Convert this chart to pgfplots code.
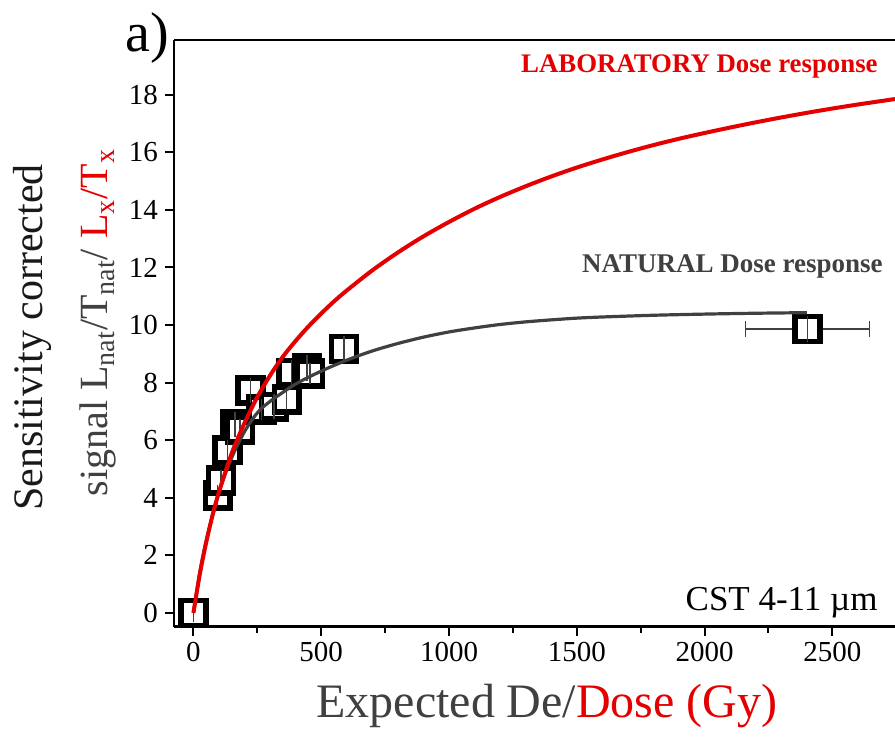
\documentclass[border=0pt]{standalone}
\usepackage{pgfplots}
\pgfplotsset{compat=1.18}
\usepackage{fontspec}
\setmainfont{Liberation Serif}
\definecolor{labred}{RGB}{228,0,0}
\definecolor{natgray}{RGB}{64,64,64}
\begin{document}
\begin{tikzpicture}
\begin{axis}[
  name=ax,
  scale only axis, width=360.5pt, height=293.25pt,
  xmin=-76, xmax=2745, ymin=-0.47, ymax=19.9,
  axis lines*=left,
  axis line style={-, line width=1.3pt, black},
  tick align=outside,
  xtick={0,500,...,2500}, minor xtick={250,750,...,2750},
  ytick={0,2,...,18},
  major tick length=4.5pt, minor tick length=3pt,
  every tick/.style={black, line width=1pt},
  tick label style={font=\fontsize{14.5}{14.5}\selectfont},
  /pgf/number format/assume math mode=true,
  /pgf/number format/1000 sep={},
  clip=false,
  clip marker paths=true,
]
% x error bar of last point
\addplot[natgray, draw=none, mark=none, forget plot,
  error bars/.cd, x dir=both, x explicit,
  error bar style={natgray, line width=0.6pt},
  error mark options={natgray, line width=0.6pt, mark size=4pt, rotate=90}]
  coordinates {(2402,9.86) +- (242,0)};
% squares
\addplot[only marks, mark=square*, mark size=6.2pt,
  mark options={fill=white, draw=black, line width=2.8pt}]
  table[x=x, y=y] {
x y
0 0
95 4.08
108 4.6
134 5.65
163 6.54
182 6.37
224 7.72
267 7.06
315 7.16
365 7.41
384 8.34
445 8.51
456 8.32
589 9.17
2402 9.86
};
% y error bars inside squares
\addplot[natgray, draw=none, mark=none, forget plot,
  error bars/.cd, y dir=both, y explicit,
  error bar style={natgray, line width=0.7pt},
  error mark options={natgray, line width=0.7pt, mark size=2.2pt}]
  coordinates {
(0,0) +- (0,0.15)
(95,4.08) +- (0,0.22)
(108,4.6) +- (0,0.22)
(134,5.65) +- (0,0.22)
(163,6.54) +- (0,0.28)
(182,6.37) +- (0,0.22)
(224,7.72) +- (0,0.28)
(267,7.06) +- (0,0.22)
(315,7.16) +- (0,0.28)
(365,7.41) +- (0,0.22)
(384,8.34) +- (0,0.28)
(445,8.51) +- (0,0.3)
(456,8.32) +- (0,0.22)
(589,9.17) +- (0,0.3)
(2402,9.86) +- (0,0.3)
};
% natural curve
\addplot[natgray, line width=1.6pt, smooth, tension=0.5] coordinates {
(0,0) (25,1.4) (50,2.5) (100,4.2) (150,5.4) (200,6.3) (250,6.95) (300,7.35)
(400,7.95) (500,8.4) (600,8.78) (700,9.1) (800,9.36) (900,9.58) (1000,9.76)
(1100,9.9) (1200,10.02) (1300,10.11) (1400,10.18) (1500,10.24) (1600,10.28)
(1800,10.34) (2000,10.38) (2200,10.41) (2400,10.43)};
% laboratory curve
\addplot[labred, line width=2pt, smooth, tension=0.5] coordinates {
(0,0) (25,1.35) (50,2.45) (75,3.4) (100,4.2) (150,5.55) (200,6.6) (250,7.5)
(300,8.25) (350,8.9) (400,9.45) (450,9.95) (500,10.4) (550,10.82) (600,11.2)
(700,11.9) (800,12.52) (900,13.08) (1000,13.58) (1100,14.04) (1200,14.45)
(1300,14.82) (1400,15.16) (1500,15.47) (1600,15.75) (1700,16.01) (1800,16.25)
(1900,16.47) (2000,16.67) (2100,16.86) (2200,17.04) (2300,17.21) (2400,17.37)
(2500,17.52) (2600,17.66) (2745,17.85)};
\end{axis}
\draw[line width=1.3pt] (ax.north west) -- (ax.north east);
% labels
\node[anchor=base, rotate=90, inner sep=0pt, font=\fontsize{21}{21}\selectfont, text=black!90]
  at (-65.5pt,144.5pt) {Sensitivity corrected};
\node[anchor=base, rotate=90, inner sep=0pt, font=\fontsize{20}{20}\selectfont]
  at (-33pt,152pt) {\color{natgray}signal L\textsubscript{nat}/T\textsubscript{nat}/ \color{labred}L\textsubscript{x}/T\textsubscript{x}};
\node[anchor=base, inner sep=0pt, font=\fontsize{24}{24}\selectfont]
  at (186.5pt,-45.25pt) {\color{natgray}Expected De/\color{labred}Dose (Gy)};
\node[anchor=base west, inner sep=0pt, font=\fontsize{28}{28}\selectfont] at (-24.5pt,287.25pt) {a)};
\node[anchor=base east, inner sep=0pt, font=\fontsize{13.4}{13.4}\selectfont\bfseries, text=labred]
  at (352pt,276.75pt) {LABORATORY Dose response};
\node[anchor=base east, inner sep=0pt, font=\fontsize{13.5}{13.5}\selectfont\bfseries, text=natgray]
  at (354.5pt,176.75pt) {NATURAL Dose response};
\node[anchor=base east, inner sep=0pt, font=\fontsize{17.5}{17.5}\selectfont]
  at (352pt,8.25pt) {CST 4-11 µm};
\pgfresetboundingbox
\path (-87pt,-56.75pt) rectangle (360.5pt,313.25pt);
\end{tikzpicture}
\end{document}
